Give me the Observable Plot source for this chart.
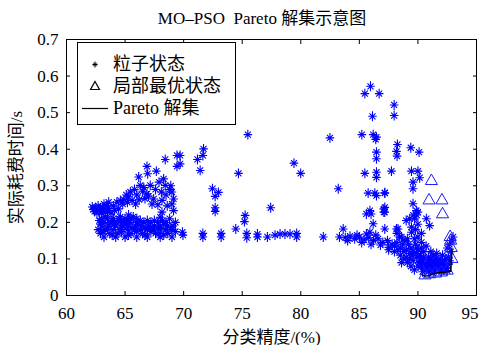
<!DOCTYPE html>
<html><head><meta charset="utf-8">
<script src="https://cdn.jsdelivr.net/npm/d3@7"></script>
<script src="https://cdn.jsdelivr.net/npm/@observablehq/plot@0.6"></script>
<style>
body{margin:0;background:#fff;}
#wrap{position:relative;width:479px;height:345px;font-family:"Liberation Serif","Noto Sans CJK SC",serif;color:#000;}
#title{position:absolute;left:262px;top:4px;transform:translateX(-50%);white-space:nowrap;font-size:17px;}
#legend{position:absolute;left:77px;top:42px;width:159px;height:83px;border:1px solid #000;background:#fff;box-sizing:border-box;font-size:18px;}
.row{position:absolute;left:0;height:22px;width:158px;}
.row svg{position:absolute;left:0;top:0;}
.row span{position:absolute;left:35px;top:0;line-height:22px;white-space:nowrap;}
</style></head>
<body>
<div id="wrap">
<div id="chart"></div>
<div id="title">MO–PSO&nbsp; Pareto 解集示意图</div>
<div id="legend">
 <div class="row" style="top:10px"><svg width="34" height="22"><path d="M17,8.5V14.5M14.4,11.5H19.6M15.2,9.7L18.8,13.3M15.2,13.3L18.8,9.7" stroke="#000" stroke-width="1" fill="none"/></svg><span>粒子状态</span></div>
 <div class="row" style="top:32px"><svg width="34" height="22"><path d="M17,6.5L21.5,14.5H12.5Z" stroke="#000" stroke-width="1.2" fill="none"/></svg><span>局部最优状态</span></div>
 <div class="row" style="top:54px"><svg width="34" height="22"><path d="M4,11.5H30" stroke="#000" stroke-width="1.2"/></svg><span>Pareto 解集</span></div>
</div>
</div>
<script>
// tick values / labels
const xTicks = [60, 65, 70, 75, 80, 85, 90, 95];
const yTicks = [0, 0.1, 0.2, 0.3, 0.4, 0.5, 0.6, 0.7];
const yTickLabels = ["0", "0.1", "0.2", "0.3", "0.4", "0.5", "0.6", "0.7"];

// particle states [accuracy %, time s] — left cluster
const leftBlob = [[62.3,0.235],[62.5,0.24],[62.7,0.245],[62.9,0.235],[63.1,0.24],[63.3,0.228],[62.6,0.225],[63.0,0.225],[63.4,0.245],[63.6,0.238],[62.4,0.23],[63.8,0.225],[63.2,0.25],[63.6,0.255],[64.0,0.245],[64.3,0.255],[64.45,0.237],[64.6,0.26],[64.8,0.25],[62.2,0.242],[62.8,0.232],[63.5,0.232],[64.1,0.232],[64.9,0.262]];
const leftBand = [[63.0,0.21],[63.5,0.21],[64.0,0.21],[64.5,0.21],[65.0,0.21],[65.5,0.21],[66.0,0.21],
 [63.2,0.2],[63.8,0.2],[64.3,0.2],[64.9,0.2],[65.4,0.2],[66.0,0.2],[66.6,0.2],[67.2,0.2],[67.8,0.2],[68.5,0.2],
 [63.0,0.19],[63.6,0.19],[64.2,0.19],[64.8,0.19],[65.3,0.19],[65.9,0.19],[66.4,0.19],[67.0,0.19],[67.5,0.19],[68.0,0.19],[68.6,0.19],[69.1,0.19],
 [62.7,0.18],[63.3,0.18],[64.0,0.18],[64.6,0.18],[65.2,0.18],[65.8,0.18],[66.3,0.18],[66.9,0.18],[67.4,0.18],[68.0,0.18],[68.5,0.18],[69.0,0.18],
 [62.9,0.17],[63.7,0.17],[64.4,0.17],[65.5,0.17],[66.5,0.17],[67.6,0.17],[68.6,0.17],[69.9,0.173],
 [63.2,0.16],[64.2,0.16],[65.0,0.16],[66.0,0.16],[66.9,0.16],[68.0,0.16],[69.0,0.16]];
const leftBandFill = [[62.8,0.205],[63.3,0.215],[63.9,0.205],[64.6,0.205],[65.2,0.205],[65.7,0.215],[66.3,0.205],[66.9,0.205],[67.5,0.205],[68.2,0.205],[68.8,0.21],
 [62.9,0.195],[63.5,0.185],[64.1,0.195],[64.7,0.185],[65.1,0.195],[65.6,0.185],[66.1,0.195],[66.7,0.185],[67.2,0.185],[67.8,0.185],[68.3,0.195],[68.9,0.185],[69.3,0.2],
 [63.1,0.175],[63.9,0.165],[64.7,0.175],[65.3,0.165],[66.0,0.175],[66.7,0.165],[67.2,0.175],[67.9,0.17],[68.3,0.165],[69.3,0.175],[64.6,0.215],[65.3,0.22]];
const leftUpper = [[65.45,0.283],[65.3,0.27],[65.6,0.26],[65.1,0.275],[65.8,0.29],[66.0,0.275],[66.3,0.301],[66.16,0.324],[66.5,0.285],[66.87,0.278],[66.7,0.265],[66.93,0.333],[66.87,0.353],[67.15,0.301],[67.44,0.264],[67.67,0.34],[67.3,0.25],[67.8,0.248],[68.15,0.26],[68.29,0.319],[68.43,0.301],[68.43,0.372],[68.15,0.228],[68.0,0.214],[68.6,0.245],[69.0,0.283],[69.14,0.264],[69.14,0.232],[69.43,0.383],[69.43,0.353],[68.8,0.29],[68.5,0.275],[67.9,0.31],[69.0,0.25],[65.9,0.25],[65.2,0.255],[66.2,0.262],[66.6,0.295],[67.6,0.29],[67.0,0.272],[68.9,0.3],[68.1,0.283]];
// middle region
const middle = [[75.48,0.44],[82.49,0.431],[71.7,0.401],[71.64,0.383],[71.18,0.372],[71.41,0.342],[69.7,0.383],[69.7,0.36],[74.68,0.334],[79.42,0.362],[79.99,0.334],
 [72.46,0.292],[72.97,0.282],[72.69,0.271],[72.69,0.24],[72.69,0.23],[77.43,0.24],[75.25,0.219],[75.19,0.202],[74.45,0.182],[83.2,0.292],
 [69.94,0.165],[71.64,0.17],[71.64,0.16],[73.2,0.17],[73.2,0.16],[75.39,0.17],[75.39,0.158],[76.3,0.168],[76.3,0.16],[77.15,0.16],[77.8,0.165],[78.23,0.168],[78.65,0.168],[79.08,0.168],[79.65,0.17],[79.65,0.16],[81.92,0.16],[83.62,0.182]];
// right cluster
const rightUpper = [[85.95,0.572],[85.47,0.552],[86.69,0.552],[87.97,0.521],[87.97,0.492],[86.12,0.49],[85.21,0.44],[86.18,0.44],[86.46,0.433],[86.4,0.427],[88.25,0.413],[89.39,0.404],[88.17,0.394],[88.22,0.381],[86.46,0.392],[86.46,0.374],[90.1,0.392],
 [85.47,0.334],[86.46,0.337],[86.46,0.323],[87.74,0.34],[89.45,0.34],[90.0,0.34],[90.15,0.322],[89.58,0.31],[89.58,0.292],[87.17,0.281],
 [85.75,0.28],[86.32,0.28],[87.17,0.28],[86.46,0.273],[89.58,0.251],[87.09,0.237],[87.09,0.228],[89.87,0.232],[90.0,0.228],[89.9,0.22],[89.6,0.22],[89.3,0.21],[90.72,0.21],[91.0,0.191],
 [85.9,0.232],[85.6,0.223],[86.0,0.223],[87.17,0.241],[87.17,0.228],[86.18,0.196],[85.9,0.173],[87.17,0.182],[88.17,0.182],[88.3,0.182],[89.0,0.205],[89.45,0.187],[89.45,0.173]];
const rightBand = [[83.3,0.16],[83.8,0.158],[84.2,0.162],[84.6,0.155],[85.0,0.16],[85.4,0.152],[85.8,0.158],[86.2,0.15],[86.6,0.155],[87.0,0.145],[87.4,0.15],[87.8,0.14],[88.2,0.145],[84.0,0.15],[85.2,0.145],[86.0,0.14],[86.8,0.138],[87.5,0.132],[88.5,0.13],[84.8,0.165],[86.4,0.165],[85.6,0.168],
 [87.5,0.125],[88.0,0.12],[88.5,0.11],[88.8,0.1],[89.1,0.09],[89.4,0.08],[89.7,0.07],[88.3,0.125],[89.0,0.105],[89.3,0.115],
 [88.6,0.16],[88.9,0.15],[89.2,0.14],[89.0,0.125],[89.4,0.13],[89.6,0.12],[89.8,0.14],[90.0,0.125],[89.5,0.11],[89.9,0.105],[90.2,0.11],[90.4,0.095],[90.1,0.09],[90.6,0.085],[90.3,0.08],[90.8,0.075],[91.0,0.09],[91.2,0.08],[91.4,0.07],[91.6,0.085],[91.8,0.075],[92.0,0.07],[92.2,0.08],[92.4,0.075],[92.6,0.085],[92.3,0.095],[91.9,0.1],[91.5,0.1],[90.9,0.105],[90.5,0.12],[90.7,0.135],[90.3,0.145],[89.7,0.155],[91.1,0.12],[91.6,0.115],[92.1,0.11],[92.6,0.105],[92.8,0.12],[92.7,0.14],[92.9,0.15],[93.0,0.16],[92.5,0.13],[90.9,0.065],[91.3,0.062],[92.0,0.065],[92.5,0.068],[90.6,0.07],[89.3,0.1],[88.8,0.12],[90.0,0.16],[90.3,0.17],[89.8,0.18],[90.0,0.195],[89.7,0.21],[88.45,0.16],[88.2,0.17]];
const rightDenseFill = [[88.0,0.135],[88.7,0.14],[89.1,0.155],[89.9,0.115],[90.2,0.1],[90.5,0.105],[90.8,0.09],[91.1,0.1],[91.3,0.09],[91.7,0.095],[92.1,0.09],[92.4,0.1],[92.7,0.095],[91.9,0.085],[90.9,0.08],[91.5,0.078],[92.2,0.072],[90.0,0.08],[89.6,0.095],[90.4,0.065],[91.0,0.07],[88.6,0.09],[89.9,0.13],[90.3,0.13],[91.3,0.11]];
// local best states
const localBest = [[91.15,0.313],[90.95,0.26],[92.05,0.26],[92.1,0.222],[92.75,0.16],[92.8,0.15],[90.6,0.055],[91.0,0.058],[91.5,0.06],[92.0,0.063],[92.5,0.068],[92.9,0.1],[92.85,0.13]];
// Pareto front
const paretoX = [90.4, 90.6, 91.0, 91.3, 91.8, 92.4, 92.8, 92.85, 92.9];
const paretoY = [0.056, 0.053, 0.055, 0.06, 0.062, 0.064, 0.066, 0.1, 0.128];

const particles = [...leftBlob, ...leftBand, ...leftBandFill, ...leftUpper, ...middle, ...rightUpper, ...rightBand, ...rightDenseFill].map(([x, y]) => ({x, y}));
const best = localBest.map(([x, y]) => ({x, y}));
const pareto = paretoX.map((x, i) => ({x, y: paretoY[i]}));

const star = {
  draw(ctx, size) {
    const r = Math.sqrt(size / Math.PI);
    const h = r * 1.15, d = r * 0.7;
    ctx.moveTo(0, -h); ctx.lineTo(0, h);
    ctx.moveTo(-r, 0); ctx.lineTo(r, 0);
    ctx.moveTo(-d, -d); ctx.lineTo(d, d);
    ctx.moveTo(-d, d); ctx.lineTo(d, -d);
  }
};
const font = '"Liberation Serif","Noto Sans CJK SC",serif';

const chart = Plot.plot({
  width: 479, height: 345,
  marginTop: 39, marginBottom: 50, marginLeft: 66, marginRight: 3,
  x: {domain: [60, 95]},
  y: {domain: [0, 0.7]},
  style: {fontFamily: font, fontSize: "17px", color: "#000", background: "#fff", overflow: "visible"},
  marks: [
    Plot.dot(particles, {x: "x", y: "y", symbol: star, r: 4.3, stroke: "#0000ff", strokeWidth: 1.1}),
    Plot.dot(best, {x: "x", y: "y", symbol: "triangle", r: 4.5, stroke: "#1a1aff", strokeWidth: 1, fill: "none"}),
    Plot.line(pareto, {x: "x", y: "y", stroke: "#000", strokeWidth: 1.5}),
    Plot.frame({stroke: "#000", strokeWidth: 1}),
    Plot.axisX({ticks: xTicks.slice(0, -1), tickSize: -4, tickPadding: 15, label: "分类精度/(%)", labelAnchor: "center", labelArrow: "none", labelOffset: 47, fontSize: 17}),
    Plot.axisX({ticks: xTicks.slice(-1), tickSize: 0, tickPadding: 11, textAnchor: "end", dx: 2, label: null, fontSize: 17}),
    Plot.axisX({anchor: "top", ticks: xTicks, tickSize: -4, tickFormat: () => "", label: null}),
    Plot.axisY({ticks: yTicks, tickSize: -4, tickPadding: 12, tickFormat: (d, i) => yTickLabels[i], label: "实际耗费时间/s", labelAnchor: "center", labelArrow: "none", labelOffset: 57, fontSize: 17}),
    Plot.axisY({anchor: "right", ticks: yTicks, tickSize: -4, tickFormat: () => "", label: null})
  ]
});
document.getElementById("chart").appendChild(chart);
</script>
</body></html>
